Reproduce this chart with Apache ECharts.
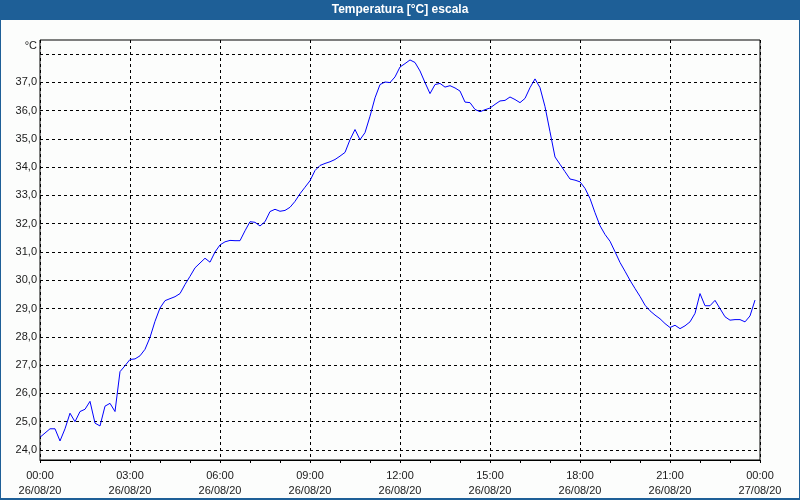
<!DOCTYPE html>
<html>
<head>
<meta charset="utf-8">
<script src="https://cdn.jsdelivr.net/npm/echarts@6/dist/echarts.min.js"></script>
<style>
html,body{margin:0;padding:0;background:#fcfdfc;}
#chart{width:800px;height:500px;}
</style>
</head>
<body>
<div id="chart"></div>
<script>
// ---- data ----
var chartTitle = 'Temperatura [°C] escala';
var unitLabel = '°C';
var sampleStepMinutes = 10; // readings every 10 minutes starting 26/08/20 00:00
var temperatures = [
  24.45, 24.60, 24.75, 24.75, 24.32, 24.75, 25.30, 25.00, 25.36, 25.44,
  25.72, 24.95, 24.85, 25.55, 25.65, 25.36, 26.77, 26.98, 27.20, 27.22,
  27.33, 27.56, 27.98, 28.55, 29.02, 29.28, 29.35, 29.42, 29.53, 29.85,
  30.14, 30.44, 30.61, 30.78, 30.64, 31.00, 31.25, 31.36, 31.41, 31.40,
  31.40, 31.75, 32.07, 32.05, 31.92, 32.07, 32.43, 32.51, 32.44, 32.47,
  32.58, 32.79, 33.06, 33.29, 33.52, 33.88, 34.06, 34.13, 34.19, 34.27,
  34.39, 34.52, 34.97, 35.33, 34.97, 35.22, 35.80, 36.45, 36.92, 37.01,
  36.99, 37.19, 37.54, 37.66, 37.79, 37.70, 37.40, 36.99, 36.60, 36.92,
  36.96, 36.83, 36.88, 36.80, 36.69, 36.30, 36.28, 36.04, 35.96, 36.03,
  36.09, 36.22, 36.34, 36.36, 36.48, 36.39, 36.28, 36.43, 36.81, 37.12,
  36.81, 36.14, 35.25, 34.36, 34.10, 33.84, 33.58, 33.54, 33.48, 33.25,
  32.89, 32.39, 31.93, 31.62, 31.38, 31.01, 30.63, 30.32, 30.00, 29.71,
  29.43, 29.12, 28.92, 28.77, 28.64, 28.47, 28.33, 28.41, 28.29, 28.39,
  28.53, 28.83, 29.53, 29.10, 29.10, 29.29, 29.00, 28.71, 28.59, 28.61,
  28.61, 28.53, 28.74, 29.30
];
var xTickMinutes = [0, 180, 360, 540, 720, 900, 1080, 1260, 1440];
var xTickLabels = [
  '00:00\n26/08/20', '03:00\n26/08/20', '06:00\n26/08/20', '09:00\n26/08/20',
  '12:00\n26/08/20', '15:00\n26/08/20', '18:00\n26/08/20', '21:00\n26/08/20',
  '00:00\n27/08/20'
];
var yTickValues = [24, 25, 26, 27, 28, 29, 30, 31, 32, 33, 34, 35, 36, 37, 38];
var yTickLabels = ['24,0','25,0','26,0','27,0','28,0','29,0','30,0','31,0','32,0','33,0','34,0','35,0','36,0','37,0',''];

// ---- build ----
var seriesData = temperatures.map(function (v, i) { return [i * sampleStepMinutes, v]; });
var FONT = 'Liberation Sans';
var TXT = '#1a1a1a';
var chart = echarts.init(document.getElementById('chart'), null, {renderer: 'canvas'});
chart.setOption({
  animation: false,
  backgroundColor: '#fcfdfc',
  title: {
    text: chartTitle,
    left: 'center',
    top: 3,
    padding: 0,
    textStyle: {color: '#ffffff', fontFamily: FONT, fontWeight: 'bold', fontSize: 12, lineHeight: 14}
  },
  graphic: [
    {type: 'rect', z: 0, silent: true, shape: {x: 0, y: 0, width: 800, height: 20}, style: {fill: '#1e5f97'}},
    {type: 'rect', z: 0, silent: true, shape: {x: 0, y: 0, width: 1, height: 500}, style: {fill: '#1e5f97'}},
    {type: 'rect', z: 0, silent: true, shape: {x: 799, y: 0, width: 1, height: 500}, style: {fill: '#1e5f97'}},
    {type: 'rect', z: 0, silent: true, shape: {x: 0, y: 498, width: 800, height: 2}, style: {fill: '#1e5f97'}}
  ],
  grid: [
    {left: 40, right: 40, top: 40, bottom: 40, show: true, borderColor: '#000', borderWidth: 1, backgroundColor: 'transparent', containLabel: false},
    {left: 40, right: 40, top: 54, bottom: 50, show: false, containLabel: false}
  ],
  xAxis: [
    {
      gridIndex: 0, type: 'value', min: 0, max: 1440, interval: 180,
      axisLine: {show: true, lineStyle: {color: '#000', width: 1}},
      axisTick: {show: true, inside: false, length: 3, lineStyle: {color: '#000'}},
      minorTick: {show: true, splitNumber: 3, length: 3, lineStyle: {color: '#000'}},
      splitLine: {show: true, lineStyle: {color: '#000', width: 1, type: [3, 3]}},
      axisLabel: {
        show: true, margin: 8, color: TXT, fontFamily: FONT, fontSize: 11, lineHeight: 15,
        showMinLabel: true, showMaxLabel: true,
        formatter: function (v) { var i = xTickMinutes.indexOf(Math.round(v)); return i >= 0 ? xTickLabels[i] : ''; }
      }
    },
    {gridIndex: 1, type: 'value', min: 0, max: 1440, show: false}
  ],
  yAxis: [
    {gridIndex: 0, type: 'value', min: 0, max: 1, show: false},
    {
      gridIndex: 1, type: 'value', min: 24, max: 38, interval: 1,
      name: unitLabel, nameLocation: 'end', nameGap: 3,
      nameTextStyle: {color: TXT, fontFamily: FONT, fontSize: 11, align: 'right', padding: [0, 3, 0, 0]},
      axisLine: {show: false},
      axisTick: {show: false},
      splitLine: {show: true, lineStyle: {color: '#000', width: 1, type: [3, 3]}},
      axisLabel: {
        show: true, margin: 3, color: TXT, fontFamily: FONT, fontSize: 11,
        formatter: function (v) { var i = yTickValues.indexOf(Math.round(v)); return i >= 0 ? yTickLabels[i] : ''; }
      }
    }
  ],
  series: [{
    type: 'line', xAxisIndex: 1, yAxisIndex: 1,
    data: seriesData, showSymbol: false, symbol: 'none', smooth: false,
    lineStyle: {color: '#0000ff', width: 1}, z: 5
  }]
});
</script>
</body>
</html>
